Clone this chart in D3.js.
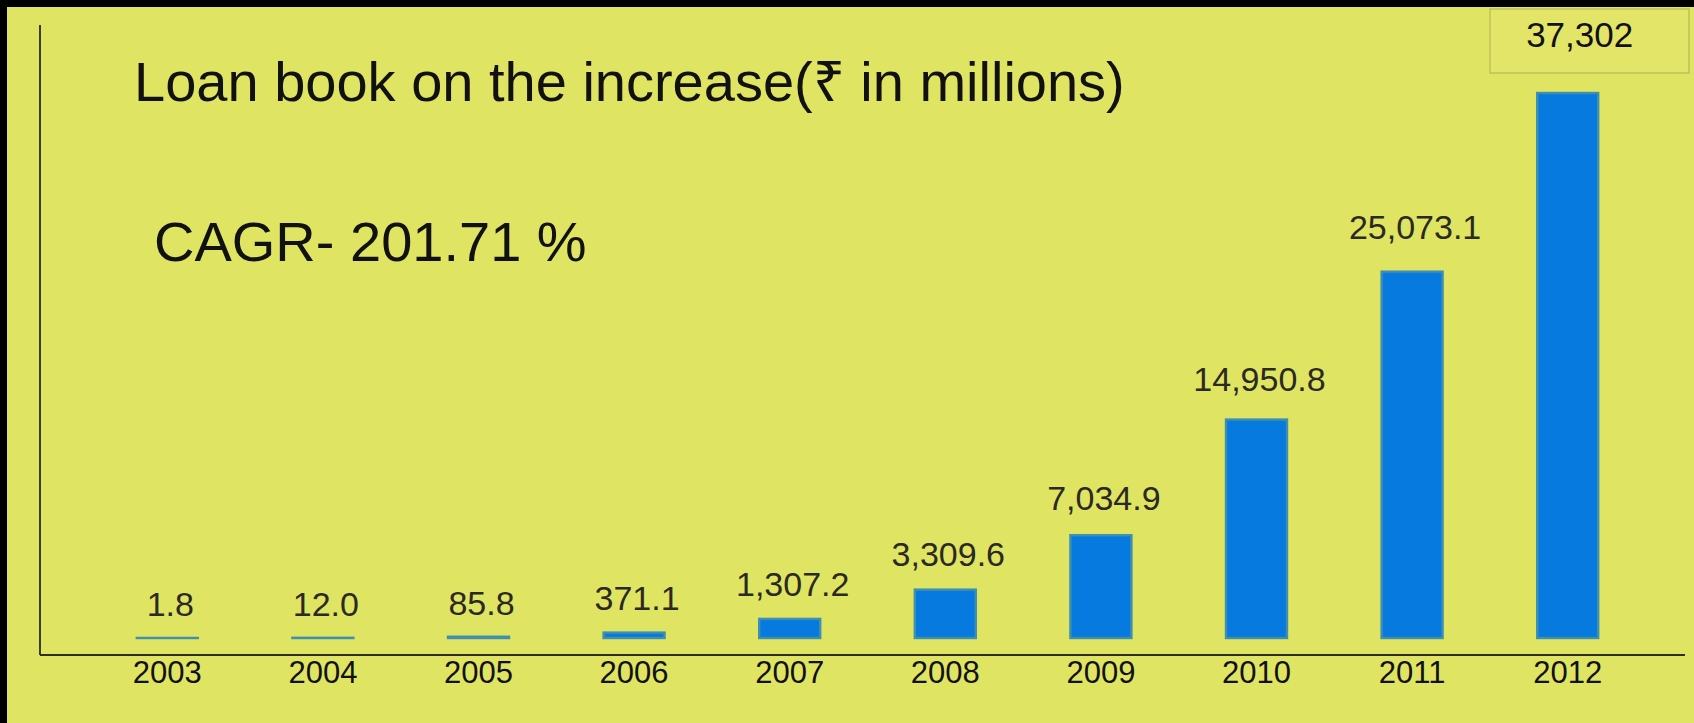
<!DOCTYPE html>
<html lang="en">
<head>
    <meta charset="UTF-8">
    <title>Loan book</title>
    <script src="https://cdnjs.cloudflare.com/ajax/libs/d3/7.8.5/d3.min.js"></script>
    <style>
        body { margin: 0; background: #000; }
        text { font-family: "Liberation Sans", Arial, sans-serif; }
    </style>
</head>
<body>
<svg id="chart" width="1694" height="723"></svg>
<script>
    // data
    var years = ["2003", "2004", "2005", "2006", "2007", "2008", "2009", "2010", "2011", "2012"];
    var loanBook = [1.8, 12.0, 85.8, 371.1, 1307.2, 3309.6, 7034.9, 14950.8, 25073.1, 37302];
    var valueLabels = ["1.8", "12.0", "85.8", "371.1", "1,307.2", "3,309.6", "7,034.9", "14,950.8", "25,073.1", "37,302"];
    var title = "Loan book on the increase(\u20B9 in millions)";
    var cagrText = "CAGR- 201.71 %";

    var svg = d3.select("#chart"),
        width = +svg.attr("width"),
        height = +svg.attr("height");

    // black frame on top / left, yellow slide
    svg.append("rect").attr("width", width).attr("height", height).attr("fill", "#000");
    svg.append("rect")
        .attr("x", 7).attr("y", 7)
        .attr("width", width - 7).attr("height", height - 7)
        .attr("fill", "#e0e463");

    var x = d3.scaleBand()
        .domain(years)
        .range([59, 1676])
        .paddingInner(0.608)
        .paddingOuter(0.5);

    var y = d3.scaleLinear()
        .domain([0, d3.max(loanBook)])
        .range([638, 93]);

    var axisY = 655;

    // axis lines
    svg.append("line")
        .attr("x1", 40).attr("x2", 40)
        .attr("y1", 25).attr("y2", axisY)
        .attr("stroke", "#3c3c28").attr("stroke-width", 2);
    svg.append("line")
        .attr("x1", 40).attr("x2", 1685)
        .attr("y1", axisY).attr("y2", axisY)
        .attr("stroke", "#2e2e1e").attr("stroke-width", 2);

    // bars
    svg.append("g")
        .selectAll("rect")
        .data(loanBook)
        .enter()
        .append("rect")
        .attr("x", function(d, i) { return x(years[i]); })
        .attr("width", x.bandwidth())
        .attr("y", function(d) { return y(d); })
        .attr("height", function(d) { return y(0) - y(d); })
        .attr("fill", "#067ade")
        .attr("stroke", "#3f8fb0")
        .attr("stroke-width", 2.4);

    // year labels under the axis
    svg.append("g")
        .selectAll("text")
        .data(years)
        .enter()
        .append("text")
        .attr("x", function(d) { return x(d) + x.bandwidth() / 2; })
        .attr("y", 683)
        .attr("text-anchor", "middle")
        .attr("font-size", 31)
        .attr("fill", "#111")
        .text(function(d) { return d; });

    // value labels above the bars (last one sits in a box)
    var last = loanBook.length - 1;
    svg.append("g")
        .selectAll("text")
        .data(loanBook.slice(0, last))
        .enter()
        .append("text")
        .attr("x", function(d, i) { return x(years[i]) + x.bandwidth() / 2 + 3; })
        .attr("y", function(d) {
            var h = y(0) - y(d);
            return y(d) - 22 - h * 0.028;
        })
        .attr("text-anchor", "middle")
        .attr("font-size", 34)
        .attr("fill", "#2a2a22")
        .text(function(d, i) { return valueLabels[i]; });

    var box = svg.append("g");
    box.append("rect")
        .attr("x", 1490).attr("y", 9)
        .attr("width", 199).attr("height", 64)
        .attr("fill", "#e2e567")
        .attr("stroke", "#bec258").attr("stroke-width", 1.5);
    box.append("text")
        .attr("x", x(years[last]) + x.bandwidth() / 2 + 12)
        .attr("y", 47)
        .attr("text-anchor", "middle")
        .attr("font-size", 35)
        .attr("fill", "#111")
        .text(valueLabels[last]);

    // title and CAGR note
    svg.append("text")
        .attr("x", 134).attr("y", 101)
        .attr("font-size", 56)
        .attr("fill", "#111")
        .text(title);
    svg.append("text")
        .attr("x", 154).attr("y", 261)
        .attr("font-size", 56)
        .attr("fill", "#111")
        .text(cagrText);
</script>
</body>
</html>
